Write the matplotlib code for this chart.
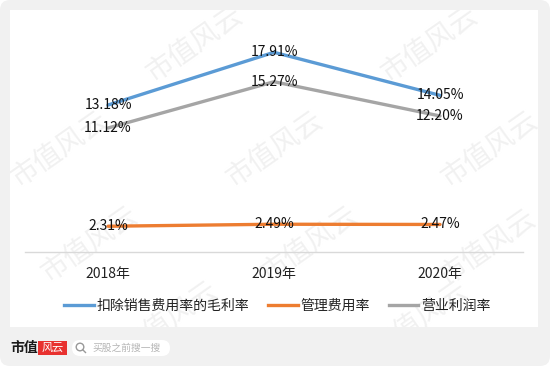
import matplotlib
matplotlib.use("Agg")
import matplotlib.pyplot as plt
from matplotlib.patches import FancyBboxPatch, Rectangle, Circle
from matplotlib.lines import Line2D

plt.rcParams['font.family'] = ['Noto Sans CJK SC', 'DejaVu Sans']

# data
years = ["2018年", "2019年", "2020年"]
gross_margin = [13.18, 17.91, 14.05]   # 扣除销售费用率的毛利率
admin_rate = [2.31, 2.49, 2.47]        # 管理费用率
op_margin = [11.12, 15.27, 12.20]      # 营业利润率
series_names = ["扣除销售费用率的毛利率", "管理费用率", "营业利润率"]
colors = ["#5B9BD5", "#ED7D31", "#A5A5A5"]

fig = plt.figure(figsize=(5.5, 3.66), dpi=100)
fig.patch.set_facecolor("white")

# background card in pixel coordinates
bg = fig.add_axes([0, 0, 1, 1], zorder=0)
bg.set_xlim(0, 550)
bg.set_ylim(366, 0)
bg.axis("off")
bg.add_patch(FancyBboxPatch((0, 0), 550, 366, boxstyle="round,pad=0,rounding_size=10",
                            fc="#f1f1f1", ec="none"))
bg.add_patch(Rectangle((10, 10), 528, 317, fc="white", ec="none"))

# watermark (faint, tiled)
marks = [(195, 45), (430, 45), (60, 150), (275, 150), (490, 150),
         (90, 245), (310, 245), (488, 248), (170, 320), (420, 320)]
for mx, my in marks:
    bg.text(mx, my, "市值风云", rotation=35, ha="center", va="center",
            fontsize=20, fontweight="light", color="#f1f1f1", zorder=1)

# footer logo and search box
bg.text(10, 348, "市值", fontsize=10, fontweight="bold", color="#1a1a1a",
        ha="left", va="center")
bg.add_patch(Rectangle((38, 341), 29, 14, fc="#e8312f", ec="none"))
bg.text(52.5, 348, "风云", fontsize=8, color="white", style="italic",
        ha="center", va="center")
bg.add_patch(FancyBboxPatch((72, 340), 98, 16, boxstyle="round,pad=0,rounding_size=8",
                            fc="white", ec="none"))
bg.add_patch(Circle((80, 347), 3.8, fc="none", ec="#999999", lw=1))
bg.plot([82.8, 85.5], [349.8, 352.5], color="#999999", lw=1)
bg.text(92, 348, "买股之前搜一搜", fontsize=7, color="#b5b5b5", ha="left", va="center")

# main chart
ax = fig.add_axes([25 / 550, 1 - 252 / 366, 498 / 550, 223 / 366], zorder=2)
ax.set_facecolor("none")
x = range(len(years))
for vals, c in zip([gross_margin, admin_rate, op_margin], colors):
    ax.plot(x, vals, color=c, lw=2.4, solid_joinstyle="round", solid_capstyle="round")
    for i, v in zip(x, vals):
        ax.text(i, v, f"{v:.2f}%", ha="center", va="center", fontsize=10, color="#111111")

ax.set_xlim(-0.5, 2.5)
ax.set_ylim(0, 20)
ax.set_xticks(list(x))
ax.set_xticklabels(years, fontsize=10, color="#222222")
ax.set_yticks([])
ax.tick_params(axis="x", length=0, pad=11)
for s in ["top", "left", "right"]:
    ax.spines[s].set_visible(False)
ax.spines["bottom"].set_color("#d9d9d9")
ax.spines["bottom"].set_linewidth(1)

handles = [Line2D([0], [0], color=c, lw=2.4) for c in colors]
fig.legend(handles, series_names, loc="center", bbox_to_anchor=(277.5 / 550, 1 - 306 / 366),
           ncol=3, frameon=False, fontsize=10, handlelength=2.1, handletextpad=0.2,
           columnspacing=1.4, labelcolor="#222222")

fig.savefig("out.png", dpi=100)
